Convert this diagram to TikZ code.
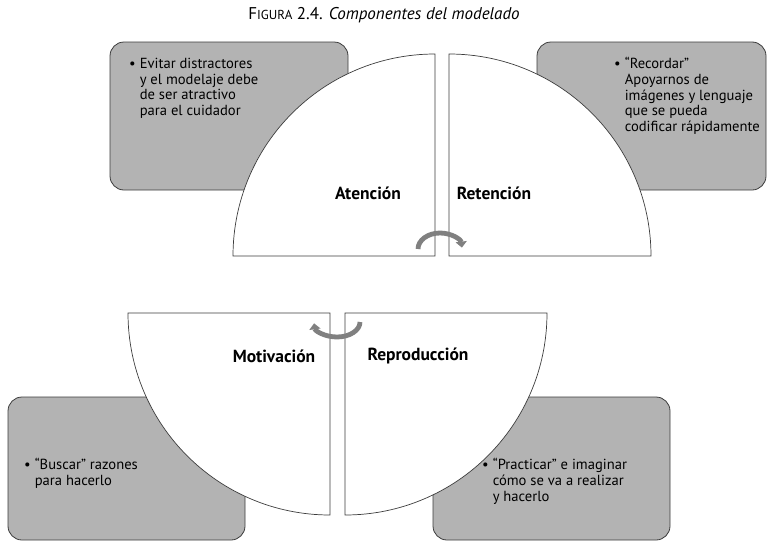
\documentclass[tikz,border=0pt]{standalone}
\usepackage{fontspec}
\setmainfont{PT Sans}
\usetikzlibrary{arrows.meta}
\definecolor{cajagris}{RGB}{179,179,179}
\definecolor{borde}{RGB}{60,60,60}
\definecolor{flecha}{RGB}{128,128,128}
\tikzset{
  caja/.style={draw=borde, fill=cajagris, rounded corners=14pt, line width=0.8pt},
  cuadrante/.style={draw=borde, fill=white, line width=0.7pt},
  etiqueta/.style={font=\fontsize{17.5}{21}\selectfont\bfseries, inner sep=0pt},
  texto/.style={font=\fontsize{14.6}{15.8}\selectfont, inner sep=0pt, anchor=north west, align=left},
  giro/.style={draw=flecha, line width=4.8pt, -{Triangle[width=11pt,length=6pt]}}
}
\newcommand{\vineta}[1]{\begin{tabular}[t]{@{}l@{\hspace{4pt}}l@{}}\textbullet&\begin{tabular}[t]{@{}l@{}}#1\end{tabular}\end{tabular}}
\begin{document}
\begin{tikzpicture}[x=1pt, y=-1pt]
\useasboundingbox (0,0) rectangle (767,541);
\node[font=\fontsize{17}{20}\selectfont] (titulo) at (384,15){F{\fontsize{13}{15}\selectfont IGURA} 2.4. \textit{Componentes del modelado}};
\draw[caja] (110,42) rectangle (348,190);
\draw[caja] (537,42) rectangle (766,190);
\draw[caja] (8,397) rectangle (245,540);
\draw[caja] (433,397) rectangle (670,540);
\draw[cuadrante] (435,256) -- (233,256) arc[start angle=180, end angle=270, radius=202] -- cycle;
\draw[cuadrante] (449,256) -- (449,54) arc[start angle=270, end angle=360, radius=202] -- cycle;
\draw[cuadrante] (330,313) -- (128,313) arc[start angle=180, end angle=90, radius=202] -- cycle;
\draw[cuadrante] (345,313) -- (547,313) arc[start angle=0, end angle=90, radius=202] -- cycle;
\node[etiqueta] (lab0) at (368,193){Atención};
\node[etiqueta] (lab1) at (494,193){Retención};
\node[etiqueta] (lab2) at (274,356){Motivación};
\node[etiqueta] (lab3) at (418,356){Reproducción};
\node[texto] (txt0) at (129,57){\vineta{Evitar distractores\\y el modelaje debe\\de ser atractivo\\para el cuidador}};
\node[texto] (txt1) at (614,57){\vineta{“Recordar”\\Apoyarnos de\\imágenes y lenguaje\\que se pueda\\codificar rápidamente}};
\node[texto] (txt2) at (24,458){\vineta{“Buscar” razones\\para hacerlo}};
\node[texto] (txt3) at (482,458){\vineta{“Practicar” e imaginar\\cómo se va a realizar\\y hacerlo}};
\coordinate (gir0) at (418,249);
\coordinate (gir1) at (360,322);
\draw[giro] (gir0) arc[start angle=180, end angle=355, x radius=22, y radius=16];
\draw[giro] (gir1) arc[start angle=0, end angle=175, x radius=23, y radius=15];
\end{tikzpicture}
\end{document}
